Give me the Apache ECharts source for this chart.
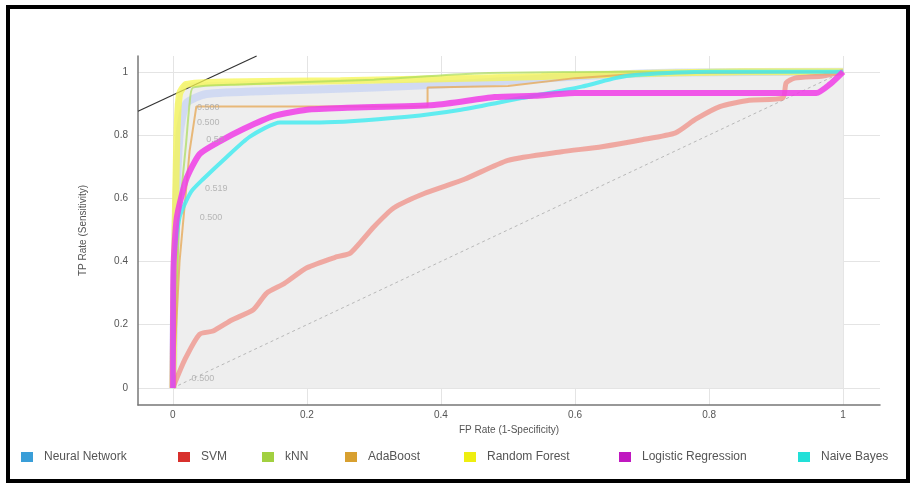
<!DOCTYPE html>
<html>
<head>
    <meta charset="UTF-8">
    <title>ROC Analysis</title>
    <script src="https://cdn.jsdelivr.net/npm/echarts@6.0.0/dist/echarts.min.js"></script>
    <style>
        html, body { margin: 0; padding: 0; background: #fff; }
    </style>
</head>

<body>
    <div id="container" style="width: 910px;height:483px;"></div>
</body>

<script>
    // tick labels
    var ticks = [0, 0.2, 0.4, 0.6, 0.8, 1];
    var legendNames = ['Neural Network', 'SVM', 'kNN', 'AdaBoost', 'Random Forest', 'Logistic Regression', 'Naive Bayes'];
    var legendColors = ['#3a9ed8', '#d8302c', '#a2d040', '#d8a030', '#eeee10', '#c018c0', '#22e0d8'];

    // curves as [FP rate, TP rate]
    var neuralNetwork = [[0, 0], [0.004, 0.5], [0.01, 0.8], [0.02, 0.9], [0.05, 0.93], [0.15, 0.94], [0.3, 0.95], [0.45, 0.965], [0.6, 0.985], [0.75, 0.998], [1, 1]];
    var svm = [[0, 0], [0.018, 0.09], [0.04, 0.17], [0.06, 0.18], [0.088, 0.215], [0.12, 0.247], [0.14, 0.3], [0.166, 0.33], [0.2, 0.38], [0.245, 0.415], [0.265, 0.427], [0.3, 0.51], [0.33, 0.57], [0.375, 0.615], [0.435, 0.66], [0.5, 0.72], [0.58, 0.747], [0.64, 0.763], [0.7, 0.785], [0.75, 0.807], [0.78, 0.85], [0.816, 0.89], [0.86, 0.91], [0.91, 0.917], [0.915, 0.965], [0.928, 0.98], [0.97, 0.987], [1, 1]];
    var knn = [[0, 0], [0.01, 0.55], [0.02, 0.78], [0.025, 0.9], [0.03, 0.95], [0.1, 0.96], [0.3, 0.975], [0.45, 0.995], [0.7, 1], [1, 1]];
    var adaBoost = [[0, 0], [0.01, 0.4], [0.025, 0.75], [0.035, 0.89], [0.38, 0.89], [0.38, 0.95], [0.5, 0.955], [0.6, 0.98], [0.7, 0.995], [1, 1]];
    var randomForest = [[0, 0], [0.003, 0.45], [0.006, 0.8], [0.01, 0.93], [0.02, 0.96], [0.08, 0.968], [0.25, 0.972], [0.4, 0.978], [0.55, 0.985], [0.7, 0.995], [0.85, 1], [1, 1]];
    var logisticRegression = [[0, 0], [0.001, 0.38], [0.006, 0.54], [0.02, 0.66], [0.04, 0.74], [0.07, 0.78], [0.106, 0.82], [0.15, 0.86], [0.2, 0.88], [0.26, 0.886], [0.39, 0.895], [0.48, 0.92], [0.54, 0.924], [0.6, 0.933], [0.96, 0.933], [0.98, 0.96], [1, 1]];
    var naiveBayes = [[0, 0], [0.001, 0.38], [0.01, 0.54], [0.027, 0.62], [0.045, 0.66], [0.08, 0.73], [0.115, 0.795], [0.16, 0.84], [0.22, 0.84], [0.35, 0.858], [0.43, 0.88], [0.52, 0.917], [0.61, 0.953], [0.66, 0.98], [0.69, 0.99], [0.8, 1], [1, 1]];
    var hull = [[0, 0], [0.003, 0.9], [0.015, 0.965], [0.5, 0.99], [0.7, 1], [1, 1]];
    var diagonal = [[0, 0], [1, 1]];
    var isoLine = [[-0.052, 0.875], [0.125, 1.05]];

    // threshold labels
    var thresholdPos = [[0.028, 0.03], [0.04, 0.54], [0.048, 0.63], [0.05, 0.785], [0.036, 0.84], [0.036, 0.886]];
    var thresholdText = ['0.500', '0.500', '0.519', '0.50', '0.500', '0.500'];

    var mycharts = echarts.init(document.getElementById('container'));

    var curves = [neuralNetwork, svm, knn, adaBoost, randomForest, logisticRegression, naiveBayes];
    var lineColors = ['rgba(190,205,245,0.6)', 'rgba(240,130,120,0.65)', 'rgba(170,220,90,0.7)', 'rgba(230,170,90,0.8)', 'rgba(245,245,80,0.75)', 'rgba(240,60,230,0.85)', 'rgba(70,235,240,0.85)'];
    var lineWidths = [8, 5, 2, 2, 7, 6, 4];
    var drawOrder = [0, 4, 2, 3, 1, 6, 5];

    function show_data() {
        var series = [{
            name: 'hull',
            type: 'line',
            data: hull,
            showSymbol: false,
            silent: true,
            lineStyle: { width: 0 },
            areaStyle: { color: '#eeeeee', opacity: 1 },
            z: 1
        }, {
            name: 'diagonal',
            type: 'line',
            data: diagonal,
            showSymbol: false,
            lineStyle: { color: '#b8b8b8', width: 1, type: [3, 3] },
            z: 2
        }, {
            name: 'iso',
            type: 'line',
            data: isoLine,
            showSymbol: false,
            clip: false,
            lineStyle: { color: '#333', width: 1.2 },
            z: 3
        }];

        drawOrder.forEach(function (i) {
            series.push({
                name: legendNames[i],
                type: 'line',
                data: curves[i],
                showSymbol: false,
                smooth: (i === 3) ? false : 0.2,
                itemStyle: { color: legendColors[i] },
                lineStyle: { color: lineColors[i], width: lineWidths[i] },
                z: 5
            });
        });

        series.push({
            name: 'thresholds',
            type: 'scatter',
            symbolSize: 0,
            data: thresholdPos.map(function (p, k) {
                return { value: p, label: { formatter: thresholdText[k] } };
            }),
            label: {
                show: true,
                position: 'right',
                distance: 0,
                color: '#a8a8a8',
                fontSize: 9,
                fontFamily: 'Liberation Sans'
            },
            z: 6
        });

        var legends = [];
        var legendLeft = [16, 173, 257, 340, 459, 614, 793];
        legendNames.forEach(function (n, i) {
            legends.push({
                data: [n],
                left: legendLeft[i],
                top: 446,
                icon: 'rect',
                itemWidth: 12,
                itemHeight: 10,
                textStyle: {
                    color: '#555',
                    fontSize: 12,
                    fontFamily: 'Liberation Sans',
                    padding: [0, 0, 0, 6]
                },
                selectedMode: false
            });
        });

        var option = {
            animation: false,
            graphic: [{
                type: 'rect',
                shape: { x: 8, y: 7, width: 900, height: 474 },
                style: { fill: 'none', stroke: '#000', lineWidth: 4 },
                z: 100
            }],
            legend: legends,
            grid: { left: 138, top: 56, width: 742, height: 349 },
            xAxis: {
                type: 'value',
                min: -0.052,
                max: 1.055,
                name: 'FP Rate (1-Specificity)',
                nameLocation: 'middle',
                nameGap: 20,
                nameTextStyle: { color: '#555', fontSize: 10, fontFamily: 'Liberation Sans' },
                axisLine: { show: true, onZero: false, lineStyle: { color: '#777', width: 1.5 } },
                axisTick: { show: false, customValues: ticks },
                axisLabel: { customValues: ticks, color: '#555', fontSize: 10, margin: 5, fontFamily: 'Liberation Sans' },
                splitLine: { show: true, lineStyle: { color: '#e4e4e4' } }
            },
            yAxis: {
                type: 'value',
                min: -0.054,
                max: 1.05,
                name: 'TP Rate (Sensitivity)',
                nameLocation: 'middle',
                nameGap: 50,
                nameTextStyle: { color: '#555', fontSize: 10, fontFamily: 'Liberation Sans' },
                axisLine: { show: true, onZero: false, lineStyle: { color: '#777', width: 1.5 } },
                axisTick: { show: false, customValues: ticks },
                axisLabel: { customValues: ticks, color: '#555', fontSize: 10, margin: 10, fontFamily: 'Liberation Sans' },
                splitLine: { show: true, lineStyle: { color: '#e4e4e4' } }
            },
            series: series
        };
        mycharts.setOption(option);
    }
    show_data();
</script>
</html>
